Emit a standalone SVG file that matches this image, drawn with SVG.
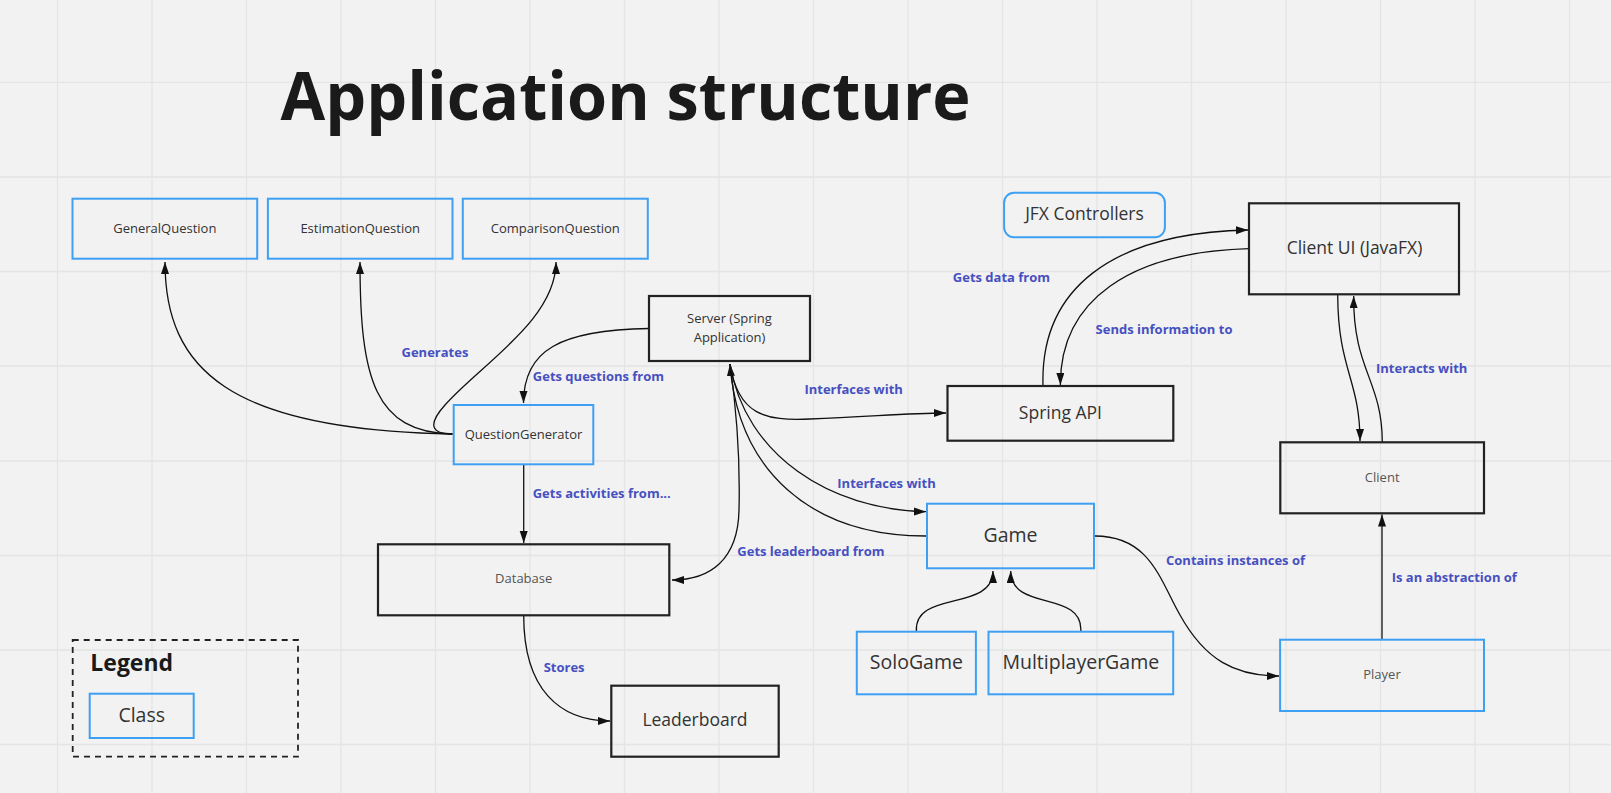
<svg xmlns="http://www.w3.org/2000/svg" width="1611" height="793" viewBox="0 0 1611 793">
<defs>
<marker id="arr" markerUnits="userSpaceOnUse" markerWidth="14" markerHeight="10" refX="12" refY="4" orient="auto">
<path d="M0,0 L12,4 L0,8 z" fill="#111"/>
</marker>
<style>
.grid{stroke:#e4e4e4;stroke-width:1.3;fill:none}
.bk{fill:none;stroke:#222;stroke-width:2.2}
.bl{fill:none;stroke:#3ea0f2;stroke-width:2}
.t{font-family:"Open Sans","Liberation Sans",sans-serif;fill:#333;text-anchor:middle}
.s{font-size:13px}
.g{fill:#555}
.m{font-size:17.5px}
.L{font-size:19.5px}
.lb{font-family:"Open Sans","Liberation Sans",sans-serif;font-size:13px;font-weight:700;fill:#4650c0}
.c{fill:none;stroke:#111;stroke-width:1.3}
.ca{fill:none;stroke:#111;stroke-width:1.3;marker-end:url(#arr)}
</style>
</defs>
<rect width="1611" height="793" fill="#f2f2f2"/>
<g id="grid" class="grid">
<path d="M57.5,0V793M152,0V793M246.5,0V793M341,0V793M435.5,0V793M530,0V793M624.5,0V793M719,0V793M813.5,0V793M908,0V793M1002.5,0V793M1097,0V793M1191.5,0V793M1286,0V793M1380.5,0V793M1475,0V793M1569.5,0V793"/>
<path d="M0,82.3H1611M0,177H1611M0,271.5H1611M0,366H1611M0,461H1611M0,555.5H1611M0,650H1611M0,744.5H1611"/>
</g>
<text x="280.6" y="120" font-family="'Open Sans','Liberation Sans',sans-serif" font-weight="700" font-size="65.5" fill="#1a1a1a" textLength="690" lengthAdjust="spacingAndGlyphs">Application structure</text>

<g id="connectors">
<path class="ca" d="M452,434 C230,430 165,370 165,262"/>
<path class="ca" d="M452,434 C375,432 360,380 360,262"/>
<path class="ca" d="M453,434 C430,434 428,424 445,405 C480,365 556,320 556,262"/>
<path class="ca" d="M649,328.5 C560,330 523.5,350 523.5,403"/>
<path class="ca" d="M523.7,465 L523.7,543"/>
<path class="ca" d="M523.7,615.5 C523.7,690 560,721 610,721"/>
<path class="ca" d="M730,364 C738,415 765,421 810,419 C870,417 905,413 946,413"/>
<path class="ca" d="M730,364 C745,455 830,510 926,511.7"/>
<path class="ca" d="M926,536 C810,536 738,470 730,364"/>
<path class="ca" d="M730,364 C738,420 740,470 739,510 C738,560 710,580 672,580"/>
<path class="ca" d="M1095,536 C1150,536 1160,580 1180,615 C1205,660 1235,676 1279,676"/>
<path class="ca" d="M916.4,631 C914,590 993,612 993,571"/>
<path class="ca" d="M1080.8,631 C1083,590 1010.7,612 1010.7,571"/>
<path class="ca" d="M1382,639 L1382,514.5"/>
<path class="ca" d="M1043,386 C1040,290 1110,233 1248,230"/>
<path class="ca" d="M1249,248.7 C1130,252 1060,300 1060.4,385"/>
<path class="ca" d="M1337.7,295 C1338,370 1360,380 1360,441"/>
<path class="ca" d="M1382.3,442 C1382,380 1353,370 1353.7,296"/>
</g>

<g id="labels">
<text class="lb" x="401.5" y="357">Generates</text>
<text class="lb" x="532.8" y="381">Gets questions from</text>
<text class="lb" x="952.8" y="282">Gets data from</text>
<text class="lb" x="1095.6" y="334">Sends information to</text>
<text class="lb" x="804.4" y="394">Interfaces with</text>
<text class="lb" x="837.3" y="488">Interfaces with</text>
<text class="lb" x="1376" y="373">Interacts with</text>
<text class="lb" x="532.7" y="498">Gets activities from...</text>
<text class="lb" x="737.3" y="555.5">Gets leaderboard from</text>
<text class="lb" x="543.7" y="672">Stores</text>
<text class="lb" x="1166" y="565">Contains instances of</text>
<text class="lb" x="1391.7" y="582">Is an abstraction of</text>
</g>

<g id="GeneralQuestion"><rect class="bl" x="72.5" y="198.7" width="184.7" height="60"/><text class="t s" x="164.8" y="232.5">GeneralQuestion</text></g>
<g id="EstimationQuestion"><rect class="bl" x="267.9" y="198.7" width="184.6" height="60"/><text class="t s" x="360.2" y="232.5">EstimationQuestion</text></g>
<g id="ComparisonQuestion"><rect class="bl" x="462.8" y="198.7" width="185" height="60"/><text class="t s" x="555.3" y="232.5">ComparisonQuestion</text></g>
<g id="QuestionGenerator"><rect class="bl" x="453.7" y="405" width="139.6" height="59.3"/><text class="t s" x="523.5" y="438.8">QuestionGenerator</text></g>
<g id="Server"><rect class="bk" x="649" y="296" width="161" height="65"/><text class="t s" x="729.5" y="323">Server (Spring</text><text class="t s" x="729.5" y="341.5">Application)</text></g>
<g id="JFXControllers"><rect class="bl" x="1004.1" y="192.7" width="160.8" height="44.6" rx="10"/><text class="t m" x="1084.5" y="220">JFX Controllers</text></g>
<g id="ClientUI"><rect class="bk" x="1249" y="203.3" width="210" height="91"/><text class="t m" x="1354.5" y="253.8">Client UI (JavaFX)</text></g>
<g id="SpringAPI"><rect class="bk" x="947.5" y="386" width="225.8" height="54.7"/><text class="t m" x="1060.4" y="419">Spring API</text></g>
<g id="Client"><rect class="bk" x="1280.3" y="442.3" width="203.7" height="71"/><text class="t s g" x="1382.2" y="481.5">Client</text></g>
<g id="Database"><rect class="bk" x="378" y="544.3" width="291.3" height="71"/><text class="t s g" x="523.7" y="583">Database</text></g>
<g id="Leaderboard"><rect class="bk" x="611.3" y="685.7" width="167.4" height="71"/><text class="t m" x="695" y="726.3">Leaderboard</text></g>
<g id="Game"><rect class="bl" x="927" y="503.7" width="167" height="64.6"/><text class="t L" x="1010.5" y="542">Game</text></g>
<g id="SoloGame"><rect class="bl" x="856.8" y="631.7" width="119.1" height="62.6"/><text class="t L" x="916.4" y="668.7">SoloGame</text></g>
<g id="MultiplayerGame"><rect class="bl" x="988.5" y="631.7" width="184.7" height="62.6"/><text class="t L" x="1080.8" y="668.7">MultiplayerGame</text></g>
<g id="Player"><rect class="bl" x="1280.1" y="639.7" width="203.9" height="71.3"/><text class="t s g" x="1382" y="679">Player</text></g>
<g id="Legend"><rect x="72.7" y="640" width="225.3" height="116.7" fill="none" stroke="#222" stroke-width="1.8" stroke-dasharray="6,5"/><text x="90.3" y="671" font-family="'Open Sans','Liberation Sans',sans-serif" font-weight="700" font-size="23" fill="#1a1a1a">Legend</text></g>
<g id="Class"><rect class="bl" x="89.7" y="693.7" width="104" height="44.3"/><text class="t L" x="141.7" y="722">Class</text></g>
</svg>
